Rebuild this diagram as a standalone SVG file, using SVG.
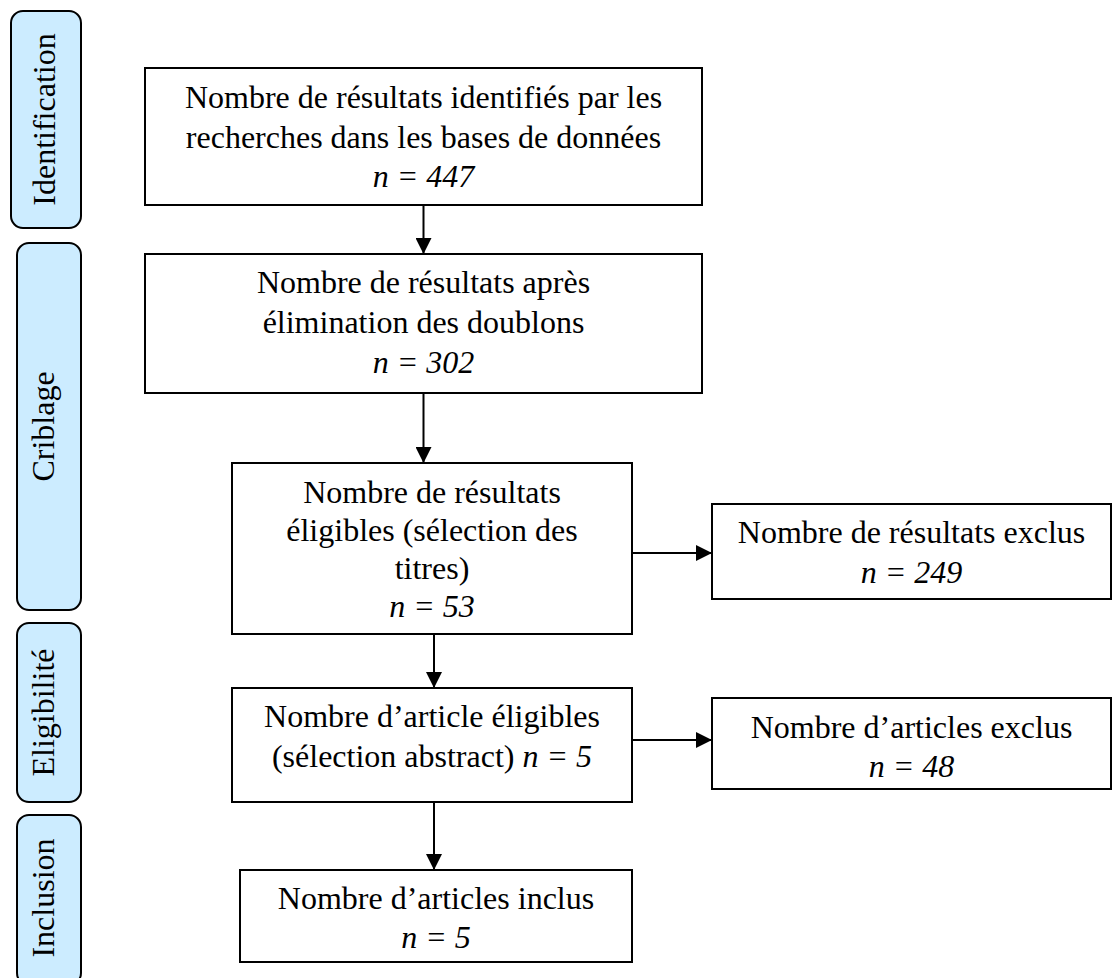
<svg xmlns="http://www.w3.org/2000/svg" width="1113" height="978" viewBox="0 0 1113 978">
<style>
.box{fill:#ffffff;stroke:#000;stroke-width:2}
.side{fill:#CCECFF;stroke:#000;stroke-width:2}
.t{font-family:"Liberation Serif","Times New Roman",serif;font-size:32px;fill:#000;text-anchor:middle}
.i{font-style:italic}
.c{stroke:#000;stroke-width:2;fill:none;marker-end:url(#ah)}
</style>
<defs>
<marker id="ah" markerUnits="userSpaceOnUse" markerWidth="16" markerHeight="16" viewBox="0 0 16 16" refX="16" refY="8" orient="auto">
<path d="M0,0 L16,8 L0,16 Z" fill="#000"/>
</marker>
</defs>
<rect width="1113" height="978" fill="#fff"/>
<g id="phase-identification">
<rect class="side" x="11" y="11" width="70" height="217" rx="12"/>
<text class="t" transform="translate(55,119.5) rotate(-90)">Identification</text>
</g>
<g id="phase-criblage">
<rect class="side" x="17" y="243" width="64" height="367" rx="12"/>
<text class="t" transform="translate(54,426.5) rotate(-90)">Criblage</text>
</g>
<g id="phase-eligibilite">
<rect class="side" x="17" y="623" width="64" height="179" rx="12"/>
<text class="t" transform="translate(54,712.5) rotate(-90)">Eligibilité</text>
</g>
<g id="phase-inclusion">
<rect class="side" x="17" y="815" width="64" height="170" rx="12"/>
<text class="t" transform="translate(54,898) rotate(-90)">Inclusion</text>
</g>
<g id="connectors">
<line class="c" x1="423.5" y1="205" x2="423.5" y2="254"/>
<line class="c" x1="423.5" y1="393" x2="423.5" y2="463"/>
<line class="c" x1="432" y1="553" x2="712" y2="553"/>
<line class="c" x1="434" y1="634" x2="434" y2="688"/>
<line class="c" x1="632" y1="740" x2="712" y2="740"/>
<line class="c" x1="434" y1="802" x2="434" y2="870"/>
</g>
<g id="n1">
<rect class="box" x="145" y="68" width="557" height="137"/>
<text class="t" x="423.5" y="108">Nombre de résultats identifiés par les</text>
<text class="t" x="423.5" y="148">recherches dans les bases de données</text>
<text class="t i" x="423.5" y="187">n = 447</text>
</g>
<g id="n2">
<rect class="box" x="145" y="254" width="557" height="139"/>
<text class="t" x="423.5" y="293">Nombre de résultats après</text>
<text class="t" x="423.5" y="333">élimination des doublons</text>
<text class="t i" x="423.5" y="373">n = 302</text>
</g>
<g id="n3">
<rect class="box" x="232" y="463" width="400" height="171"/>
<text class="t" x="432" y="503">Nombre de résultats</text>
<text class="t" x="432" y="541">éligibles (sélection des</text>
<text class="t" x="432" y="579">titres)</text>
<text class="t i" x="432" y="617">n = 53</text>
</g>
<g id="n4">
<rect class="box" x="712" y="504" width="399" height="95"/>
<text class="t" x="911.5" y="543">Nombre de résultats exclus</text>
<text class="t i" x="911.5" y="583">n = 249</text>
</g>
<g id="n5">
<rect class="box" x="232" y="688" width="400" height="114"/>
<text class="t" x="432" y="727">Nombre d’article éligibles</text>
<text class="t" x="432" y="767">(sélection abstract) <tspan class="i">n = 5</tspan></text>
</g>
<g id="n6">
<rect class="box" x="712" y="698" width="399" height="91"/>
<text class="t" x="911.5" y="738">Nombre d’articles exclus</text>
<text class="t i" x="911.5" y="777">n = 48</text>
</g>
<g id="n7">
<rect class="box" x="240" y="870" width="392" height="92"/>
<text class="t" x="436" y="909">Nombre d’articles inclus</text>
<text class="t i" x="436" y="948">n = 5</text>
</g>
</svg>
